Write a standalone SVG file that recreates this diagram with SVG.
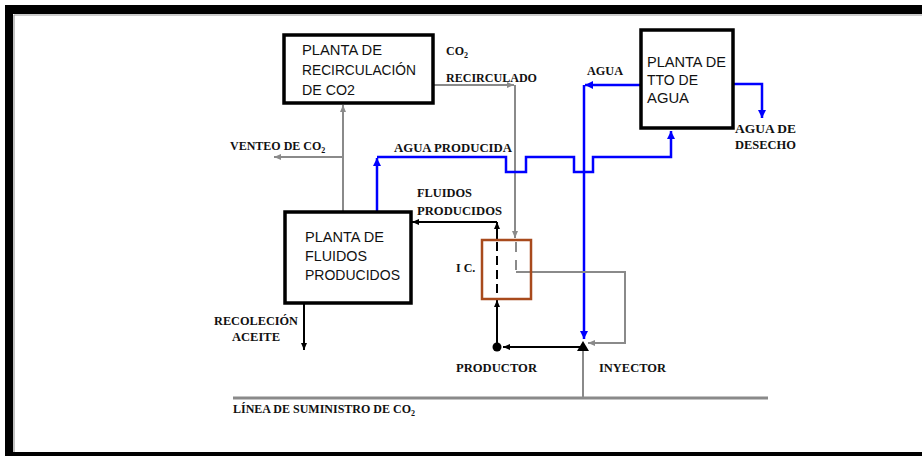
<svg xmlns="http://www.w3.org/2000/svg" width="922" height="456" viewBox="0 0 922 456">
<style>
.box{fill:#fff;stroke:#000;stroke-width:3.5}
.bt{font-family:"Liberation Sans",Arial,sans-serif;font-size:15px;fill:#111}
.lb{font-family:"Liberation Serif","Times New Roman",serif;font-weight:bold;font-size:12px;fill:#111}
.g{fill:none;stroke:#8a8a8a;stroke-width:2}
.b{fill:none;stroke:#0000ff;stroke-width:2.5}
.k{fill:none;stroke:#000;stroke-width:2}
</style>
<defs>
<marker id="ag" markerUnits="userSpaceOnUse" markerWidth="8" markerHeight="8" refX="7" refY="4" orient="auto"><path d="M0,1 L7,4 L0,7 Z" fill="#8a8a8a"/></marker>
<marker id="ab" markerUnits="userSpaceOnUse" markerWidth="10" markerHeight="10" refX="8" refY="5" orient="auto"><path d="M0,1 L8,5 L0,9 Z" fill="#0000ff"/></marker>
<marker id="ak" markerUnits="userSpaceOnUse" markerWidth="8" markerHeight="8" refX="7" refY="4" orient="auto"><path d="M0,1 L7,4 L0,7 Z" fill="#000"/></marker>
</defs>
<rect x="0" y="0" width="922" height="456" fill="#fff"/>
<!-- frame -->
<rect x="5" y="5" width="917" height="9" fill="#000"/>
<rect x="5" y="5" width="8" height="451" fill="#000"/>
<rect x="13" y="452" width="909" height="4" fill="#000"/>
<line x1="14" y1="15" x2="922" y2="15" stroke="#999" stroke-width="1.2"/>
<line x1="14" y1="15" x2="14" y2="452" stroke="#999" stroke-width="1.2"/>

<g id="connectors">
<path class="g" d="M433,85 H514" marker-end="url(#ag)"/>
<path class="g" d="M515,85 V238" marker-end="url(#ag)"/>
<path class="g" d="M343,212 V105" marker-end="url(#ag)"/>
<path class="g" d="M343,157 H274" marker-end="url(#ag)"/>
<path class="b" d="M377,212 V158" marker-end="url(#ab)"/>
<path class="b" d="M377,157 H506 V172 H526 V157 H574 V172 H593 V157 H671 V131" marker-end="url(#ab)"/>
<path class="b" d="M641,85 H585" marker-end="url(#ab)"/>
<path class="b" d="M584,85 V339" marker-end="url(#ab)"/>
<path class="b" d="M733,84 H762 V118" marker-end="url(#ab)"/>
<path class="k" d="M497,240 V222" marker-end="url(#ak)"/>
<path class="k" d="M497,222 H412" marker-end="url(#ak)"/>
<path class="k" d="M304,304 V350" marker-end="url(#ak)"/>
<path class="k" d="M497,242 V298" stroke-dasharray="9,5"/>
<path class="g" d="M516,242 V272" stroke-dasharray="10,8"/>
<path class="g" d="M516,272 H625 V343 H588" marker-end="url(#ag)"/>
<path class="k" d="M497,347 V300" marker-end="url(#ak)"/>
<path class="k" d="M580,347 H503" marker-end="url(#ak)"/>
<circle cx="497" cy="347" r="4.5" fill="#000"/>
<path class="g" d="M583,398 V348"/>
<path d="M577,351 L583,341 L589,351 Z" fill="#000"/>
<path d="M233,398 H768" stroke="#8a8a8a" stroke-width="3" fill="none"/>
</g>

<g id="recirculacion">
<rect class="box" x="284" y="35" width="149" height="68"/>
<text class="bt" x="302" y="55" textLength="80" lengthAdjust="spacingAndGlyphs">PLANTA DE</text>
<text class="bt" x="302" y="75" textLength="114" lengthAdjust="spacingAndGlyphs">RECIRCULACIÓN</text>
<text class="bt" x="302" y="95" textLength="53" lengthAdjust="spacingAndGlyphs">DE CO2</text>
</g>

<g id="tto">
<rect class="box" x="641" y="30" width="92" height="98"/>
<text class="bt" x="647" y="67" textLength="79" lengthAdjust="spacingAndGlyphs">PLANTA DE</text>
<text class="bt" x="647" y="85" textLength="51" lengthAdjust="spacingAndGlyphs">TTO DE</text>
<text class="bt" x="647" y="103" textLength="42" lengthAdjust="spacingAndGlyphs">AGUA</text>
</g>

<g id="fluidos">
<rect class="box" x="285" y="212" width="126" height="91"/>
<text class="bt" x="305" y="242" textLength="79" lengthAdjust="spacingAndGlyphs">PLANTA DE</text>
<text class="bt" x="305" y="261" textLength="62" lengthAdjust="spacingAndGlyphs">FLUIDOS</text>
<text class="bt" x="305" y="280" textLength="95" lengthAdjust="spacingAndGlyphs">PRODUCIDOS</text>
</g>

<g id="ic">
<rect x="482" y="240" width="49" height="59" fill="none" stroke="#a84a1c" stroke-width="2.5"/>
<text class="lb" x="456" y="272">I C.</text>
</g>

<g id="labels">
<text class="lb" x="446" y="55">CO<tspan font-size="8" dy="3">2</tspan></text>
<text class="lb" x="446" y="82" textLength="91" lengthAdjust="spacingAndGlyphs">RECIRCULADO</text>
<text class="lb" x="230" y="150">VENTEO DE CO<tspan font-size="8" dy="3">2</tspan></text>
<text class="lb" x="394" y="152" textLength="118" lengthAdjust="spacingAndGlyphs">AGUA PRODUCIDA</text>
<text class="lb" x="587" y="75" textLength="36" lengthAdjust="spacingAndGlyphs">AGUA</text>
<text class="lb" x="735" y="133" textLength="61" lengthAdjust="spacingAndGlyphs">AGUA  DE</text>
<text class="lb" x="735" y="149" textLength="61" lengthAdjust="spacingAndGlyphs">DESECHO</text>
<text class="lb" x="417" y="197" textLength="55" lengthAdjust="spacingAndGlyphs">FLUIDOS</text>
<text class="lb" x="417" y="215" textLength="85" lengthAdjust="spacingAndGlyphs">PRODUCIDOS</text>
<text class="lb" x="214" y="325" textLength="84" lengthAdjust="spacingAndGlyphs">RECOLECIÓN</text>
<text class="lb" x="232" y="341" textLength="48" lengthAdjust="spacingAndGlyphs">ACEITE</text>
<text class="lb" x="456" y="372" textLength="81" lengthAdjust="spacingAndGlyphs">PRODUCTOR</text>
<text class="lb" x="599" y="372" textLength="67" lengthAdjust="spacingAndGlyphs">INYECTOR</text>
<text class="lb" x="233" y="413">LÍNEA DE SUMINISTRO DE CO<tspan font-size="8" dy="3">2</tspan></text>
</g>
</svg>
